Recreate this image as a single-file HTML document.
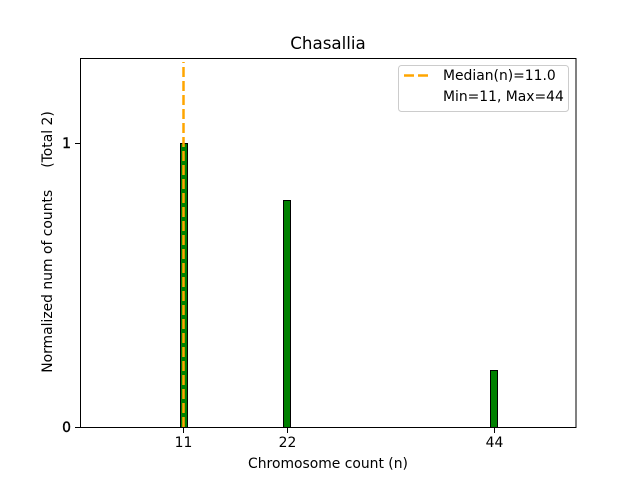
<!DOCTYPE html>
<html><head><style>body{margin:0;background:#fff}</style></head><body>
<svg width="640" height="480" xmlns="http://www.w3.org/2000/svg" font-family="DejaVu Sans, Liberation Sans, sans-serif">
<rect width="640" height="480" fill="#fff"/>
<rect x="180.5" y="143.5" width="7" height="284" fill="#008000" stroke="#000" stroke-width="1"/>
<rect x="283.5" y="200.5" width="7" height="227" fill="#008000" stroke="#000" stroke-width="1"/>
<rect x="490.5" y="370.5" width="7" height="57" fill="#008000" stroke="#000" stroke-width="1"/>
<line x1="183.5" y1="427" x2="183.5" y2="62" stroke="#FFA500" stroke-width="2.5" stroke-dasharray="10,4"/>
<rect x="80.5" y="58.5" width="495.5" height="369" fill="none" stroke="#000" stroke-width="1"/>
<g stroke="#000"><line x1="75" y1="427.5" x2="80" y2="427.5"/><line x1="75" y1="143.5" x2="80" y2="143.5"/>
<line x1="183.5" y1="428" x2="183.5" y2="433"/><line x1="287.5" y1="428" x2="287.5" y2="433"/><line x1="494.5" y1="428" x2="494.5" y2="433"/></g>
<g font-size="13.9" fill="#000">
<text x="71" y="432" text-anchor="end" stroke="#000" stroke-width="0.4">0</text><text x="71" y="148" text-anchor="end" stroke="#000" stroke-width="0.4">1</text>
<text x="183.5" y="447" text-anchor="middle">11</text><text x="287.5" y="447" text-anchor="middle">22</text><text x="494.5" y="447" text-anchor="middle">44</text>
<text x="328" y="468" text-anchor="middle">Chromosome count (n)</text>
<text transform="translate(52,242) rotate(-90)" text-anchor="middle" style="white-space:pre" xml:space="preserve">Normalized num of counts     (Total 2)</text>
<text x="328" y="49" text-anchor="middle" font-size="16.7">Chasallia</text>
</g>
<rect x="398.5" y="65.5" width="170" height="46" rx="3" fill="#fff" fill-opacity="0.8" stroke="#ccc"/>
<line x1="404" y1="75.5" x2="432" y2="75.5" stroke="#FFA500" stroke-width="2.5" stroke-dasharray="10,4"/>
<g font-size="13.9" fill="#000"><text x="443" y="80">Median(n)=11.0</text><text x="443" y="101">Min=11, Max=44</text></g>
</svg>
</body></html>
